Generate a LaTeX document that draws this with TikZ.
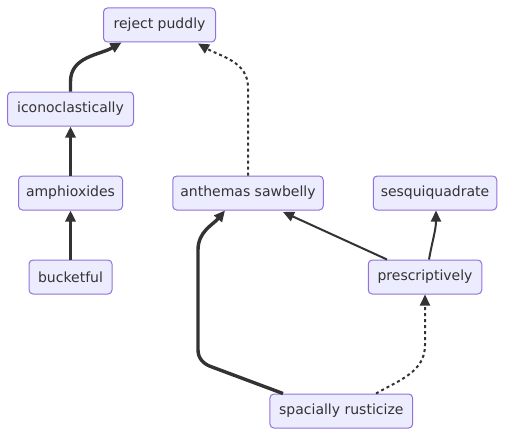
\documentclass[tikz,border=0pt]{standalone}
\usepackage{fontspec}
\setmainfont{DejaVu Sans}
\usetikzlibrary{arrows.meta,calc}
\definecolor{nfill}{HTML}{ECECFF}
\definecolor{nborder}{HTML}{9370DB}
\definecolor{ink}{HTML}{333333}
\tikzset{
  box/.style={draw=nborder, fill=nfill, line width=1pt, rounded corners=4pt,
    minimum height=34pt, inner sep=0pt, text=ink, font=\fontsize{14}{16}\selectfont},
  edge/.style={draw=ink, line width=2pt, -{Triangle[length=11pt,width=10pt]}},
  thickedge/.style={edge, line width=3.4pt},
  dotedge/.style={edge, dash pattern=on 3pt off 3pt},
}
\begin{document}
\begin{tikzpicture}[x=1pt,y=1pt]
\useasboundingbox (0,0) rectangle (505,-436);
\node[box, minimum width=112pt] (rp) at (159.5,-25) {reject puddly};
\node[box, minimum width=126pt] (ico) at (70.5,-109) {iconoclastically};
\node[box, minimum width=104pt] (amph) at (70.5,-193) {amphioxides};
\node[box, minimum width=83pt] (buck) at (70.5,-277) {bucketful};
\node[box, minimum width=150.5pt] (anth) at (248,-193) {anthemas sawbelly};
\node[box, minimum width=123.5pt] (sesq) at (435,-193) {sesquiquadrate};
\node[box, minimum width=113.5pt] (presc) at (425,-277) {prescriptively};
\node[box, minimum width=142.7pt] (spac) at (341.3,-411) {spacially rusticize};

\draw[thickedge] (buck.north) -- (amph.south);
\draw[thickedge] (amph.north) -- (ico.south);
\draw[thickedge] (ico.north) -- ++(0,10) to[out=90,in=210] ($(rp.south)+(-38,0)$);
\draw[dotedge] (anth.north) -- ++(0,88) to[out=90,in=-30] ($(rp.south)+(38.5,-1)$);
\draw[thickedge] ($(spac.north)+(-58.3,0)$) -- (212,-367) to[out=162,in=-90] (198,-350)
   -- (198,-250) to[out=90,in=230] ($(anth.south)+(-23,0)$);
\draw[edge] ($(presc.north)+(-38,0)$) -- ($(anth.south)+(35,-1.5)$);
\draw[edge] ($(presc.north)+(4,0)$) to[out=80,in=-90] ($(sesq.south)+(1,0)$);
\draw[dotedge] ($(spac.north)+(34.7,0)$) to[out=30,in=-90] (425,-345) -- (presc.south);
\end{tikzpicture}
\end{document}
